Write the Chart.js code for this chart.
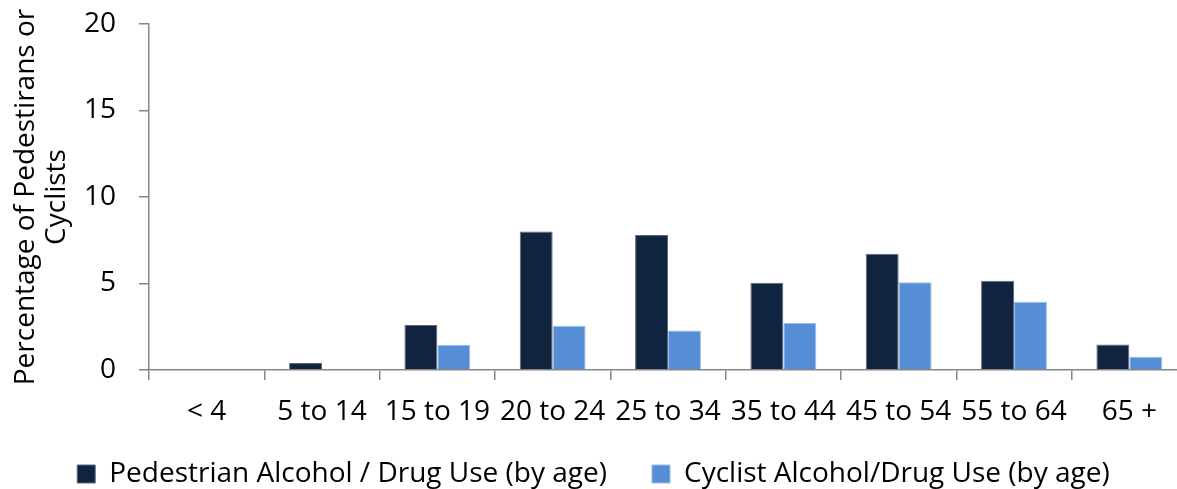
<!DOCTYPE html>
<html>
<head>
<meta charset="utf-8">
<script src="https://cdn.jsdelivr.net/npm/chart.js@4"></script>
<style>
  html, body { margin: 0; padding: 0; background: #fff; overflow: hidden; }
  #wrap { width: 1190px; height: 489px; position: relative; }
</style>
</head>
<body>
<div id="wrap"><canvas id="ageChart"></canvas></div>
<script>
// --- Data ---
const ageGroups = ['< 4', '5 to 14', '15 to 19', '20 to 24', '25 to 34', '35 to 44', '45 to 54', '55 to 64', '65 +'];
const pedestrianUse = [0, 0.4, 2.6, 8.0, 7.8, 5.05, 6.72, 5.16, 1.48];
const cyclistUse = [0, 0, 1.46, 2.56, 2.29, 2.73, 5.07, 3.95, 0.77];
const yTicks = [0, 5, 10, 15, 20];

const axisGrey = '#868686';
const fontFamily = "'Open Sans', sans-serif";
const fontSize = 28;

const ctx = document.getElementById('ageChart').getContext('2d');
new Chart(ctx, {
    type: 'bar',
    data: {
        labels: ageGroups,
        datasets: [{
            label: 'Pedestrian Alcohol / Drug Use (by age)',
            data: pedestrianUse,
            backgroundColor: '#10243F',
            borderColor: '#5d6b80',
            borderWidth: 1,
            categoryPercentage: 0.571,
            barPercentage: 1
        },
        {
            label: 'Cyclist Alcohol/Drug Use (by age)',
            data: cyclistUse,
            backgroundColor: '#558ED5',
            borderColor: '#9bbbe6',
            borderWidth: 1,
            categoryPercentage: 0.571,
            barPercentage: 1
        }]
    },
    options: {
        responsive: true,
        maintainAspectRatio: false,
        animation: false,
        layout: { padding: { left: 0, right: 3, top: 0, bottom: -9 } },
        plugins: {
            tooltip: { enabled: false },
            legend: {
                position: 'bottom',
                labels: {
                    boxWidth: 18,
                    boxHeight: 18,
                    padding: 45,
                    color: '#000',
                    font: { size: fontSize, family: fontFamily }
                }
            }
        },
        scales: {
            x: {
                grid: {
                    display: true,
                    drawOnChartArea: false,
                    drawTicks: true,
                    tickLength: 10,
                    color: axisGrey,
                    lineWidth: 1.5
                },
                border: { color: axisGrey, width: 1.5 },
                ticks: {
                    color: '#000',
                    padding: 15,
                    maxRotation: 0,
                    autoSkip: false,
                    font: { size: fontSize, family: fontFamily }
                },
                afterFit: scale => {
                    scale.height = 45;
                    // let the labels spill into the legend's top padding instead of being clipped
                    scale._computeLabelArea = () => undefined;
                }
            },
            y: {
                min: 0,
                max: 20,
                afterBuildTicks: scale => {
                    scale.ticks = yTicks.map(v => ({ value: v }));
                },
                grid: {
                    display: true,
                    drawOnChartArea: false,
                    drawTicks: true,
                    tickLength: 10,
                    color: axisGrey,
                    lineWidth: 1.5
                },
                border: { color: axisGrey, width: 1.5 },
                ticks: {
                    color: '#000',
                    padding: 23,
                    font: { size: fontSize, family: fontFamily }
                },
                title: {
                    display: true,
                    text: ['Percentage of Pedestirans or', 'Cyclists'],
                    color: '#000',
                    padding: { top: 11, bottom: 0 },
                    font: { size: fontSize, family: fontFamily, lineHeight: 1.1 }
                },
                afterFit: scale => {
                    scale.width = 149;
                    // tick padding is horizontal here; don't let it push the plot top down
                    scale.paddingTop = 24;
                }
            }
        }
    }
});
</script>
</body>
</html>
